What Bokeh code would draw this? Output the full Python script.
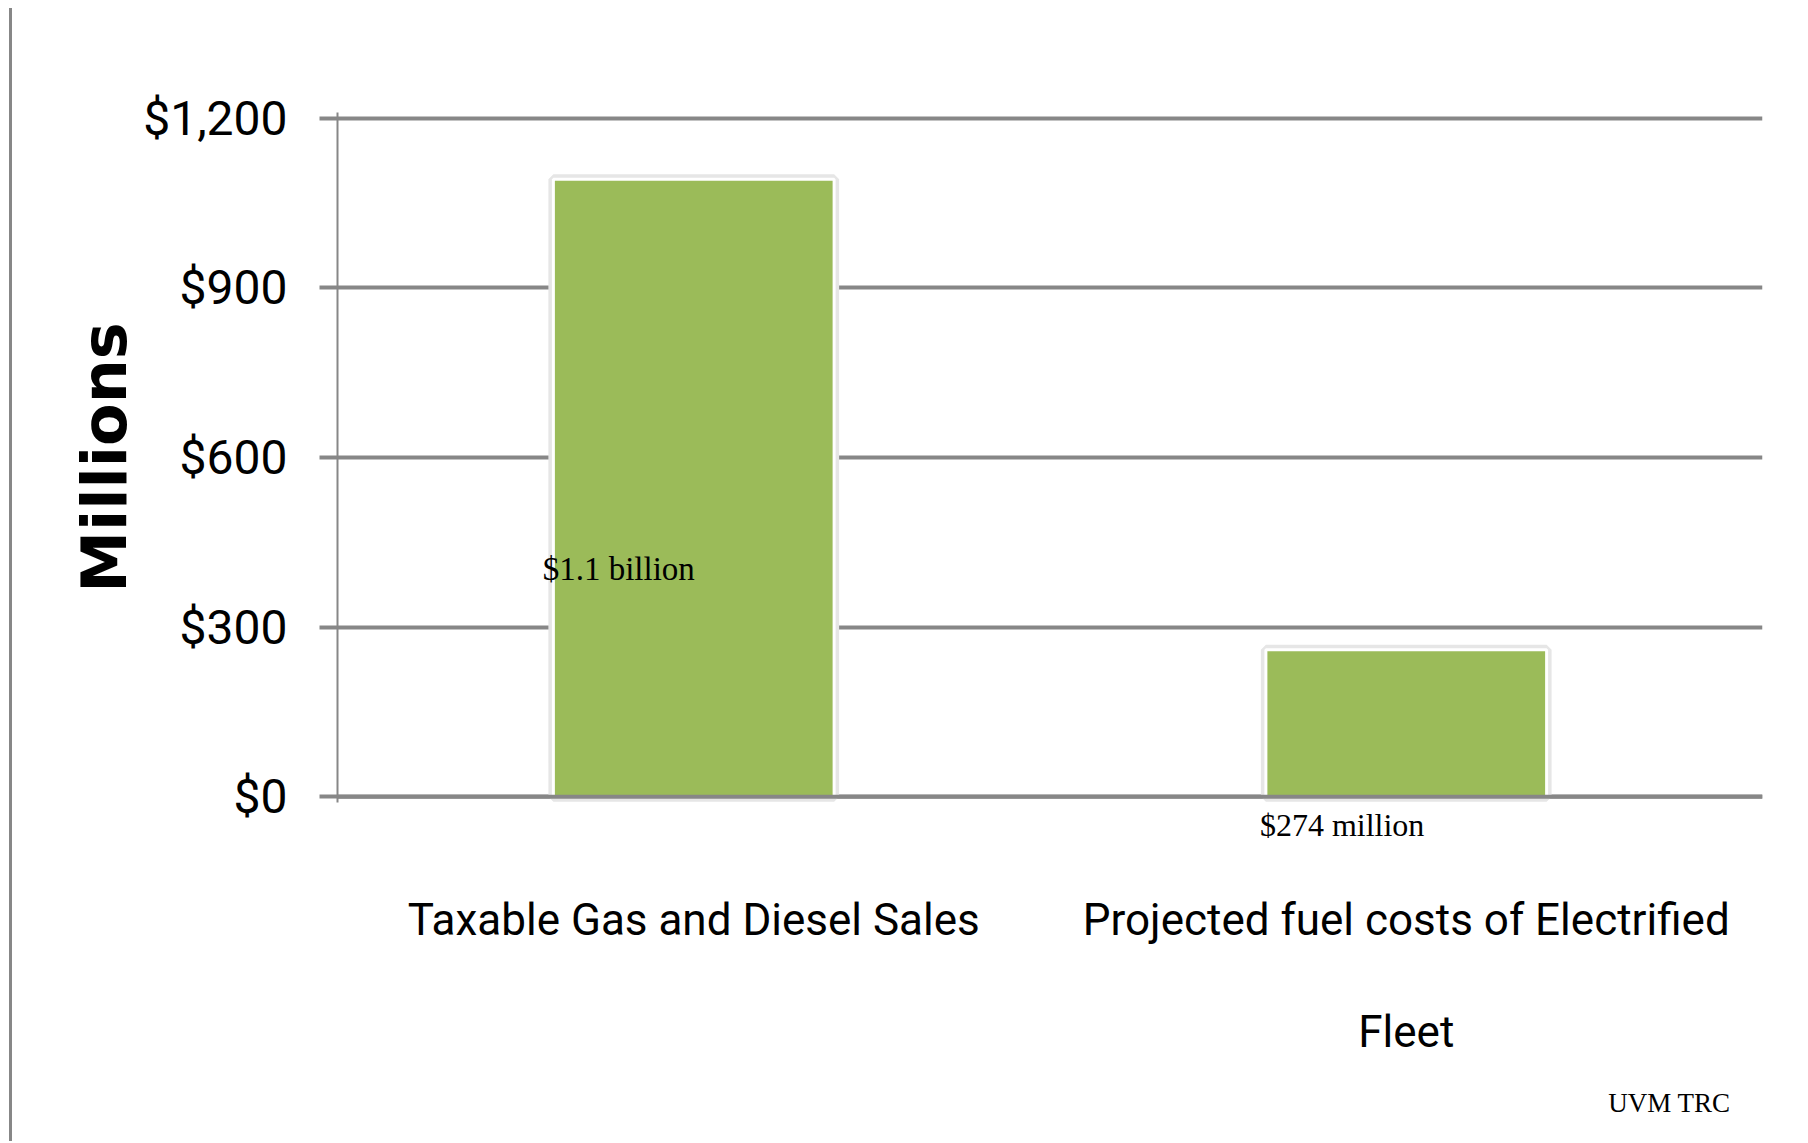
from bokeh.plotting import figure
from bokeh.models import (Range1d, FixedTicker, NumeralTickFormatter, Label, ColumnDataSource,
                          LinearAxis, Title, Span)
from bokeh.embed import file_html
from bokeh.resources import INLINE

# ---- data ----
categories = ["Taxable Gas and Diesel Sales", "Projected fuel costs of Electrified\nFleet"]
values = [1092, 260]
value_labels = ["$1.1 billion", "$274 million"]
y_ticks = [0, 300, 600, 900, 1200]
source_note = "UVM TRC"

xs = [0.5, 1.5]
src = ColumnDataSource(dict(x=xs, top=values))

GRAY = "#878787"
GREEN = "#9BBB59"
CAT_FONT = "Roboto"

p = figure(width=1780, height=1133, output_backend="svg", toolbar_location=None,
           x_range=Range1d(0, 2), y_range=Range1d(-10, 1210),
           min_border_left=325, min_border_right=30, min_border_top=104, min_border_bottom=339)
p.outline_line_color = None
p.background_fill_color = "white"
p.border_fill_color = "white"
p.styles = {"margin-left": "9px", "margin-top": "8px", "border-left": "3px solid #878787"}

# grid
p.xgrid.grid_line_color = None
p.ygrid.ticker = FixedTicker(ticks=y_ticks)
p.ygrid.grid_line_color = GRAY
p.ygrid.grid_line_width = 4

# bars: soft shadow, then bar with white edge
p.vbar(x="x", top="top", width=0.394, bottom=0, source=src,
       fill_color="#f4f4f4", line_color="#e6e6e6", line_width=10)
p.vbar(x="x", top="top", width=0.394, bottom=0, source=src,
       fill_color=GREEN, line_color="white", line_width=3)

# horizontal axis line at zero, drawn over the bars
p.add_layout(Span(location=y_ticks[0], dimension="width", line_color=GRAY, line_width=4))

# y axis
ya = p.yaxis[0]
ya.ticker = FixedTicker(ticks=y_ticks)
ya.formatter = NumeralTickFormatter(format="$0,0")
ya.axis_line_color = GRAY
ya.axis_line_width = 2
ya.major_tick_line_color = GRAY
ya.major_tick_line_width = 4
ya.major_tick_out = 18
ya.major_tick_in = 0
ya.minor_tick_line_color = None
ya.major_label_standoff = 32
ya.major_label_text_font = CAT_FONT
ya.major_label_text_font_size = "48px"
ya.major_label_text_color = "black"
ya.axis_label = "Millions"
ya.axis_label_text_font = "DejaVu Sans"
ya.axis_label_text_font_style = "bold"
ya.axis_label_text_font_size = "62px"
ya.axis_label_text_color = "black"
ya.axis_label_standoff = -1

# first axis below: value label placed under the second bar
va = p.xaxis[0]
va.ticker = FixedTicker(ticks=[1.41])
va.major_label_overrides = {1.41: value_labels[1]}
va.axis_line_color = None
va.major_tick_line_color = None
va.minor_tick_line_color = None
va.major_label_standoff = -2
va.major_label_text_font = "Liberation Serif"
va.major_label_text_font_size = "32px"
va.major_label_text_color = "black"

# category axis
xa = LinearAxis(ticker=FixedTicker(ticks=xs),
                major_label_overrides={xs[i]: categories[i] for i in range(2)})
xa.axis_line_color = None
xa.major_tick_line_color = None
xa.minor_tick_line_color = None
xa.major_label_standoff = 42
xa.major_label_text_font = CAT_FONT
xa.major_label_text_font_size = "44px"
xa.major_label_text_color = "black"
xa.major_label_text_line_height = 2.17
p.add_layout(xa, "below")

# source note
p.add_layout(Title(text=source_note, align="right", offset=32, standoff=48,
                   text_font="Liberation Serif", text_font_size="27px",
                   text_font_style="normal", text_color="black"), "below")

# data label inside the first bar
p.add_layout(Label(x=0.288, y=403, text=value_labels[0], text_font="Liberation Serif",
                   text_font_size="33px", text_color="black",
                   text_baseline="middle", text_align="left"))

open("out.html", "w").write(file_html(p, INLINE))
